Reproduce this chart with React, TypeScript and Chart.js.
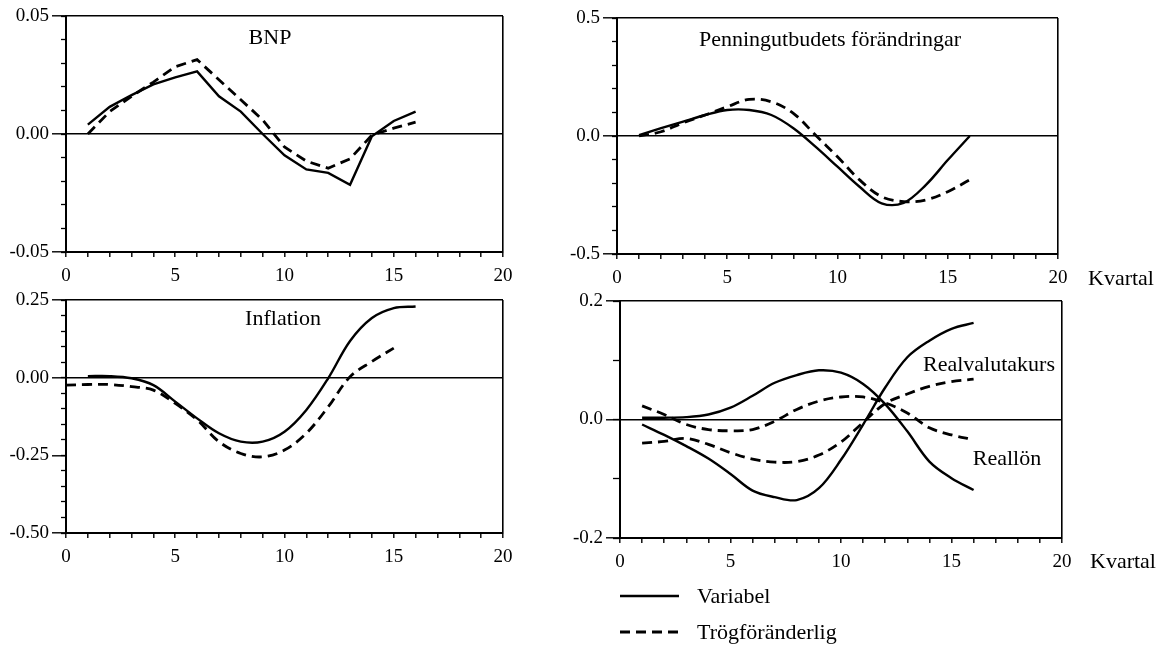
import React, { useEffect, useRef } from "react";
import { Chart, registerables } from "chart.js";
Chart.register(...registerables);

// ---------- data ----------
const quarters = [1, 2, 3, 4, 5, 6, 7, 8, 9, 10, 11, 12, 13, 14, 15, 16];
const quartersFrom0 = [0, 1, 2, 3, 4, 5, 6, 7, 8, 9, 10, 11, 12, 13, 14, 15];
const xTicks = [0, 5, 10, 15, 20];

const bnpVariabel = [0.004, 0.0115, 0.0165, 0.021, 0.024, 0.0265, 0.016, 0.0095, 0.0, -0.009, -0.015, -0.0165, -0.0215, -0.001, 0.0055, 0.0095];
const bnpTrog = [0.0, 0.0095, 0.016, 0.022, 0.0285, 0.0315, 0.023, 0.0145, 0.006, -0.0055, -0.0115, -0.0145, -0.0105, -0.0005, 0.0025, 0.005];

const pengVariabel = [0.004, 0.033, 0.061, 0.089, 0.11, 0.11, 0.089, 0.033, -0.045, -0.13, -0.215, -0.285, -0.283, -0.208, -0.102, 0.0];
const pengTrog = [0.0, 0.018, 0.056, 0.089, 0.124, 0.155, 0.145, 0.096, 0.004, -0.088, -0.186, -0.257, -0.278, -0.271, -0.236, -0.186];

const inflVariabel = [0.005, 0.005, -0.002, -0.024, -0.077, -0.131, -0.179, -0.206, -0.206, -0.174, -0.104, -0.002, 0.118, 0.192, 0.224, 0.229];
const inflTrog = [-0.024, -0.022, -0.022, -0.029, -0.04, -0.083, -0.136, -0.206, -0.244, -0.255, -0.233, -0.179, -0.094, 0.003, 0.052, 0.095];

const realvalVariabel = [-0.0085, -0.026, -0.045, -0.066, -0.092, -0.12, -0.131, -0.136, -0.116, -0.068, -0.0085, 0.054, 0.105, 0.133, 0.153, 0.163];
const reallonVariabel = [0.003, 0.003, 0.004, 0.0085, 0.02, 0.04, 0.062, 0.075, 0.083, 0.079, 0.06, 0.026, -0.02, -0.071, -0.099, -0.119];
const realvalTrog = [-0.04, -0.037, -0.032, -0.042, -0.056, -0.067, -0.072, -0.071, -0.06, -0.038, -0.005, 0.027, 0.043, 0.056, 0.064, 0.068];
const reallonTrog = [0.023, 0.0085, -0.0085, -0.017, -0.019, -0.017, -0.003, 0.017, 0.031, 0.038, 0.038, 0.028, 0.011, -0.014, -0.026, -0.034];

const legendLabels = ["Variabel", "Trögföränderlig"];

// ---------- layout / style ----------
const FONT = "'Liberation Serif', 'Times New Roman', serif";
const TICK_SIZE = 19;
const TEXT_SIZE = 22;
const X_AXIS_H = 30;

type Series = { xs: number[]; ys: number[]; dashed: boolean };
type Txt = { text: string; x: number; y: number; align?: CanvasTextAlign };
type Panel = {
  left: number; top: number; width: number; height: number;
  area: { left: number; right: number; top: number; bottom: number };
  yMin: number; yMax: number; yMajor: number; yMinor: number; dec: number; minorLen: number;
  tension: number;
  series: Series[];
  texts: Txt[];
  legend?: boolean;
};

const panels: Panel[] = [
  {
    left: 0, top: 0, width: 580, height: 300,
    area: { left: 66, right: 503, top: 16, bottom: 252 },
    yMin: -0.05, yMax: 0.05, yMajor: 0.05, yMinor: 0.01, dec: 2, minorLen: 5, tension: 0,
    series: [
      { xs: quarters, ys: bnpVariabel, dashed: false },
      { xs: quarters, ys: bnpTrog, dashed: true },
    ],
    texts: [{ text: "BNP", x: 270, y: 38 }],
  },
  {
    left: 560, top: 0, width: 599, height: 300,
    area: { left: 617, right: 1058, top: 18, bottom: 254 },
    yMin: -0.5, yMax: 0.5, yMajor: 0.5, yMinor: 0.1, dec: 1, minorLen: 5, tension: 0.35,
    series: [
      { xs: quarters, ys: pengVariabel, dashed: false },
      { xs: quarters, ys: pengTrog, dashed: true },
    ],
    texts: [
      { text: "Penningutbudets förändringar", x: 830, y: 40 },
      { text: "Kvartal", x: 1088, y: 279, align: "left" },
    ],
  },
  {
    left: 0, top: 280, width: 580, height: 300,
    area: { left: 66, right: 503, top: 300, bottom: 533 },
    yMin: -0.5, yMax: 0.25, yMajor: 0.25, yMinor: 0.05, dec: 2, minorLen: 5, tension: 0.35,
    series: [
      { xs: quarters, ys: inflVariabel, dashed: false },
      { xs: quartersFrom0, ys: inflTrog, dashed: true },
    ],
    texts: [{ text: "Inflation", x: 283, y: 319 }],
  },
  {
    left: 560, top: 280, width: 599, height: 366,
    area: { left: 620, right: 1062, top: 301, bottom: 538 },
    yMin: -0.2, yMax: 0.2, yMajor: 0.2, yMinor: 0.1, dec: 1, minorLen: 7, tension: 0.35,
    series: [
      { xs: quarters, ys: realvalVariabel, dashed: false },
      { xs: quarters, ys: reallonVariabel, dashed: false },
      { xs: quarters, ys: realvalTrog, dashed: true },
      { xs: quarters, ys: reallonTrog, dashed: true },
    ],
    texts: [
      { text: "Realvalutakurs", x: 989, y: 365 },
      { text: "Reallön", x: 1007, y: 459 },
      { text: "Kvartal", x: 1090, y: 562, align: "left" },
    ],
    legend: true,
  },
];

const SOLID_W = 2.4;
const DASH_W = 2.8;
const DASH = [10, 6];

function buildConfig(p: Panel): any {
  const isZero = (v: number) => Math.abs(v) < 1e-9;
  const annotate = {
    id: "annotate",
    afterDraw(chart: any) {
      const ctx = chart.ctx as CanvasRenderingContext2D;
      ctx.save();
      ctx.fillStyle = "#000";
      ctx.font = `${TEXT_SIZE}px ${FONT}`;
      ctx.textBaseline = "middle";
      for (const t of p.texts) {
        ctx.textAlign = t.align || "center";
        ctx.fillText(t.text, t.x - p.left, t.y - p.top);
      }
      if (p.legend) {
        const rows = [
          { y: 596, dashed: false, label: legendLabels[0] },
          { y: 632, dashed: true, label: legendLabels[1] },
        ];
        for (const r of rows) {
          ctx.beginPath();
          ctx.strokeStyle = "#000";
          ctx.lineWidth = r.dashed ? DASH_W : SOLID_W;
          ctx.setLineDash(r.dashed ? DASH : []);
          ctx.moveTo(620 - p.left, r.y - p.top);
          ctx.lineTo(679 - p.left, r.y - p.top);
          ctx.stroke();
          ctx.setLineDash([]);
          ctx.textAlign = "left";
          ctx.fillText(r.label, 697 - p.left, r.y + 1 - p.top);
        }
      }
      ctx.restore();
    },
  };

  return {
    type: "line",
    data: {
      datasets: p.series.map((s, i) => ({
        label: `s${i}`,
        data: s.xs.map((x, j) => ({ x, y: s.ys[j] })),
        borderColor: "#000",
        borderWidth: s.dashed ? DASH_W : SOLID_W,
        borderDash: s.dashed ? DASH : [],
        pointRadius: 0,
        fill: false,
        tension: p.tension,
      })),
    },
    options: {
      responsive: false,
      animation: false,
      devicePixelRatio: 1,
      layout: {
        padding: {
          left: 0,
          top: p.area.top - p.top,
          right: p.left + p.width - p.area.right,
          bottom: p.height - (p.area.bottom - p.top) - X_AXIS_H,
        },
      },
      plugins: { legend: { display: false }, tooltip: { enabled: false } },
      scales: {
        x: {
          type: "linear",
          min: xTicks[0],
          max: xTicks[xTicks.length - 1],
          afterFit: (s: any) => { s.height = X_AXIS_H; },
          ticks: {
            stepSize: 1,
            autoSkip: false,
            maxRotation: 0,
            padding: 8,
            color: "#000",
            font: { family: FONT, size: TICK_SIZE },
            callback: (v: number) => (xTicks.includes(v) ? String(v) : ""),
          },
          grid: {
            drawOnChartArea: true,
            color: (c: any) => (c.tick && c.tick.value === xTicks[xTicks.length - 1] ? "#000" : "rgba(0,0,0,0)"),
            lineWidth: 1.6,
            tickColor: "#000",
            tickWidth: 1.4,
            tickLength: 5,
          },
          border: { display: true, color: "#000", width: 2 },
        },
        y: {
          type: "linear",
          position: "left",
          weight: 1,
          min: p.yMin,
          max: p.yMax,
          afterFit: (s: any) => { s.width = p.area.left - p.left; },
          ticks: {
            stepSize: p.yMajor,
            padding: 3,
            color: "#000",
            font: { family: FONT, size: TICK_SIZE },
            callback: (v: number) => (isZero(v) ? 0 : v).toFixed(p.dec),
          },
          grid: {
            drawOnChartArea: true,
            color: (c: any) =>
              c.tick && (isZero(c.tick.value) || Math.abs(c.tick.value - p.yMax) < 1e-9) ? "#000" : "rgba(0,0,0,0)",
            lineWidth: 1.6,
            tickColor: "#000",
            tickWidth: 1.4,
            tickLength: 14,
          },
          border: { display: true, color: "#000", width: 2 },
        },
        yMinor: {
          type: "linear",
          position: "left",
          weight: 0,
          min: p.yMin,
          max: p.yMax,
          afterFit: (s: any) => { s.width = 0; },
          ticks: { stepSize: p.yMinor, display: false },
          grid: {
            drawOnChartArea: false,
            color: "#000",
            tickColor: "#000",
            tickWidth: 1.3,
            tickLength: p.minorLen,
          },
          border: { display: false },
        },
      },
    },
    plugins: [annotate],
  };
}

function PanelChart({ p }: { p: Panel }) {
  const ref = useRef<HTMLCanvasElement | null>(null);
  useEffect(() => {
    if (!ref.current) return;
    const chart = new Chart(ref.current, buildConfig(p));
    return () => chart.destroy();
  }, [p]);
  return (
    <canvas
      ref={ref}
      width={p.width}
      height={p.height}
      style={{ position: "absolute", left: p.left, top: p.top, width: p.width, height: p.height }}
    />
  );
}

export default function App() {
  return (
    <div
      style={{
        position: "absolute",
        left: 0,
        top: 0,
        width: 1159,
        height: 646,
        background: "#fff",
        overflow: "hidden",
      }}
    >
      {panels.map((p, i) => (
        <PanelChart key={i} p={p} />
      ))}
    </div>
  );
}
